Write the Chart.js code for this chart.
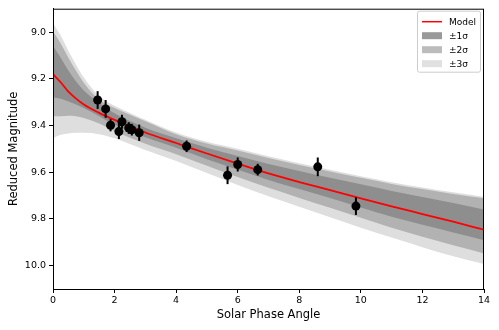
<!DOCTYPE html>
<html>
<head>
<meta charset="utf-8">
<script src="https://cdn.jsdelivr.net/npm/chart.js@4.4.1/dist/chart.umd.min.js"></script>
<style>
  html, body { margin: 0; padding: 0; background: #fff; }
  #wrap { width: 499px; height: 330px; }
</style>
</head>
<body>
<div id="wrap"><canvas id="chart" width="499" height="330"></canvas></div>
<script>
// model curve + sigma bands, sampled on phase angle grid
const xGrid = [0, 0.25, 0.5, 0.75, 1, 1.5, 2, 3, 4, 5, 6, 7, 8, 9, 10, 11, 12, 13, 14];
const modelMag = [9.18, 9.215, 9.255, 9.285, 9.31, 9.346, 9.376, 9.43, 9.475, 9.52, 9.563, 9.605, 9.642, 9.677, 9.712, 9.746, 9.779, 9.812, 9.846];
const sig1Hi = [9.06, 9.11, 9.165, 9.212, 9.25, 9.304, 9.348, 9.41, 9.455, 9.495, 9.531, 9.565, 9.595, 9.624, 9.652, 9.68, 9.706, 9.732, 9.76];
const sig1Lo = [9.28, 9.285, 9.297, 9.31, 9.325, 9.36, 9.397, 9.45, 9.495, 9.545, 9.59, 9.633, 9.672, 9.71, 9.751, 9.791, 9.825, 9.858, 9.891];
const sig2Hi = [8.998, 9.049, 9.11, 9.166, 9.217, 9.29, 9.325, 9.382, 9.437, 9.477, 9.507, 9.539, 9.569, 9.597, 9.624, 9.65, 9.672, 9.693, 9.712];
const sig2Lo = [9.36, 9.36, 9.358, 9.36, 9.368, 9.392, 9.425, 9.478, 9.523, 9.572, 9.62, 9.667, 9.71, 9.752, 9.795, 9.838, 9.876, 9.913, 9.948];
const sig3Hi = [8.962, 9.015, 9.08, 9.14, 9.195, 9.275, 9.315, 9.375, 9.43, 9.47, 9.5, 9.532, 9.562, 9.59, 9.617, 9.643, 9.665, 9.686, 9.705];
const sig3Lo = [9.455, 9.44, 9.434, 9.431, 9.431, 9.437, 9.455, 9.505, 9.552, 9.603, 9.655, 9.703, 9.748, 9.793, 9.838, 9.88, 9.921, 9.96, 9.993];

// observations
const phaseAngle = [1.45, 1.71, 1.87, 2.14, 2.24, 2.46, 2.56, 2.80, 4.34, 5.67, 6.00, 6.65, 8.60, 9.84];
const redMag = [9.291, 9.329, 9.399, 9.426, 9.384, 9.411, 9.418, 9.431, 9.489, 9.613, 9.567, 9.589, 9.577, 9.745];
const magErr = [0.038, 0.038, 0.026, 0.032, 0.03, 0.025, 0.025, 0.035, 0.025, 0.038, 0.03, 0.025, 0.04, 0.038];

const xTicks = [0, 2, 4, 6, 8, 10, 12, 14];
const yTicks = [9.0, 9.2, 9.4, 9.6, 9.8, 10.0];
const legendLabels = ['Model', '±1σ', '±2σ', '±3σ'];

const FONT = 'DejaVu Sans';
const toPts = (arr) => xGrid.map((x, i) => ({ x: x, y: arr[i] }));

function band(arr, color, order, fillTo) {
  return {
    data: toPts(arr),
    borderWidth: 0,
    borderColor: 'rgba(0,0,0,0)',
    backgroundColor: color,
    pointRadius: 0,
    cubicInterpolationMode: 'monotone',
    fill: fillTo === undefined ? false : fillTo,
    order: order
  };
}

const errorBars = {
  id: 'errorBars',
  afterDatasetsDraw(chart) {
    const { ctx, scales: { x, y } } = chart;
    ctx.save();
    ctx.strokeStyle = '#000';
    ctx.lineWidth = 2;
    phaseAngle.forEach((a, i) => {
      const px = x.getPixelForValue(a);
      ctx.beginPath();
      ctx.moveTo(px, y.getPixelForValue(redMag[i] - magErr[i]));
      ctx.lineTo(px, y.getPixelForValue(redMag[i] + magErr[i]));
      ctx.stroke();
    });
    ctx.restore();
  }
};

// top/right spines + matplotlib-ish legend box
const frameAndLegend = {
  id: 'frameAndLegend',
  afterDraw(chart) {
    const { ctx, chartArea: a } = chart;
    ctx.save();
    ctx.strokeStyle = '#000';
    ctx.lineWidth = 1;
    ctx.strokeRect(a.left + 0.5, a.top + 0.5, a.right - a.left - 1, a.bottom - a.top);

    const bx = a.right - 67, by = a.top + 2, bw = 63, bh = 61;
    ctx.fillStyle = 'rgba(255,255,255,0.8)';
    ctx.strokeStyle = '#cccccc';
    ctx.beginPath();
    ctx.roundRect(bx + 0.5, by + 0.5, bw, bh, 2);
    ctx.fill();
    ctx.stroke();

    const swatch = ['#ff0000', '#999999', '#bcbcbc', '#e0e0e0'];
    ctx.font = '9px "' + FONT + '"';
    ctx.textBaseline = 'middle';
    legendLabels.forEach((lab, i) => {
      const cy = by + 11 + i * 14;
      if (i === 0) {
        ctx.strokeStyle = swatch[0];
        ctx.lineWidth = 1.5;
        ctx.beginPath();
        ctx.moveTo(bx + 5, cy);
        ctx.lineTo(bx + 25, cy);
        ctx.stroke();
      } else {
        ctx.fillStyle = swatch[i];
        ctx.fillRect(bx + 5, cy - 3.5, 20, 7);
      }
      ctx.fillStyle = '#000';
      ctx.fillText(lab, bx + 32, cy + 0.5);
    });
    ctx.restore();
  }
};

new Chart(document.getElementById('chart').getContext('2d'), {
  type: 'scatter',
  data: {
    datasets: [
      band(sig3Hi, '#dedede', 10, '+1'),
      band(sig3Lo, '#dedede', 10),
      band(sig2Hi, '#b2b2b2', 8, '+1'),
      band(sig2Lo, '#b2b2b2', 8),
      band(sig1Hi, '#8e8e8e', 6, '+1'),
      band(sig1Lo, '#8e8e8e', 6),
      {
        data: toPts(modelMag),
        showLine: true,
        borderColor: '#ff0000',
        borderWidth: 1.8,
        pointRadius: 0,
        cubicInterpolationMode: 'monotone',
        fill: false,
        order: 2
      },
      {
        data: phaseAngle.map((a, i) => ({ x: a, y: redMag[i] })),
        showLine: false,
        pointRadius: 4.5,
        pointBackgroundColor: '#000',
        pointBorderColor: '#000',
        pointBorderWidth: 0,
        order: 1
      }
    ]
  },
  options: {
    responsive: false,
    animation: false,
    devicePixelRatio: 1,
    showLine: true,
    layout: { padding: { top: 8, right: 15, left: 0, bottom: 0 } },
    scales: {
      x: {
        type: 'linear',
        min: 0,
        max: 14,
        afterBuildTicks(s) { s.ticks = xTicks.map(v => ({ value: v })); },
        afterFit(s) { s.height = 41; },
        grid: { drawOnChartArea: false, drawTicks: true, tickLength: 4, color: '#000' },
        border: { color: '#000', width: 1 },
        ticks: { color: '#000', padding: 2, maxRotation: 0, font: { family: FONT, size: 9.5 } },
        title: { display: true, text: 'Solar Phase Angle', color: '#000', padding: { top: 0, bottom: 8 }, font: { family: FONT, size: 11.5 } }
      },
      y: {
        type: 'linear',
        reverse: true,
        min: 8.9,
        max: 10.1,
        afterBuildTicks(s) { s.ticks = yTicks.map(v => ({ value: v })); },
        afterFit(s) { s.width = 53; },
        grid: { drawOnChartArea: false, drawTicks: true, tickLength: 4, color: '#000' },
        border: { color: '#000', width: 1 },
        ticks: {
          color: '#000',
          padding: 3,
          font: { family: FONT, size: 9.5 },
          callback(v) { return Number(v).toFixed(1); }
        },
        title: { display: true, text: 'Reduced Magnitude', color: '#000', padding: { top: 7, bottom: 0 }, font: { family: FONT, size: 11.5 } }
      }
    },
    plugins: {
      legend: { display: false },
      tooltip: { enabled: false }
    }
  },
  plugins: [errorBars, frameAndLegend]
});
</script>
</body>
</html>
